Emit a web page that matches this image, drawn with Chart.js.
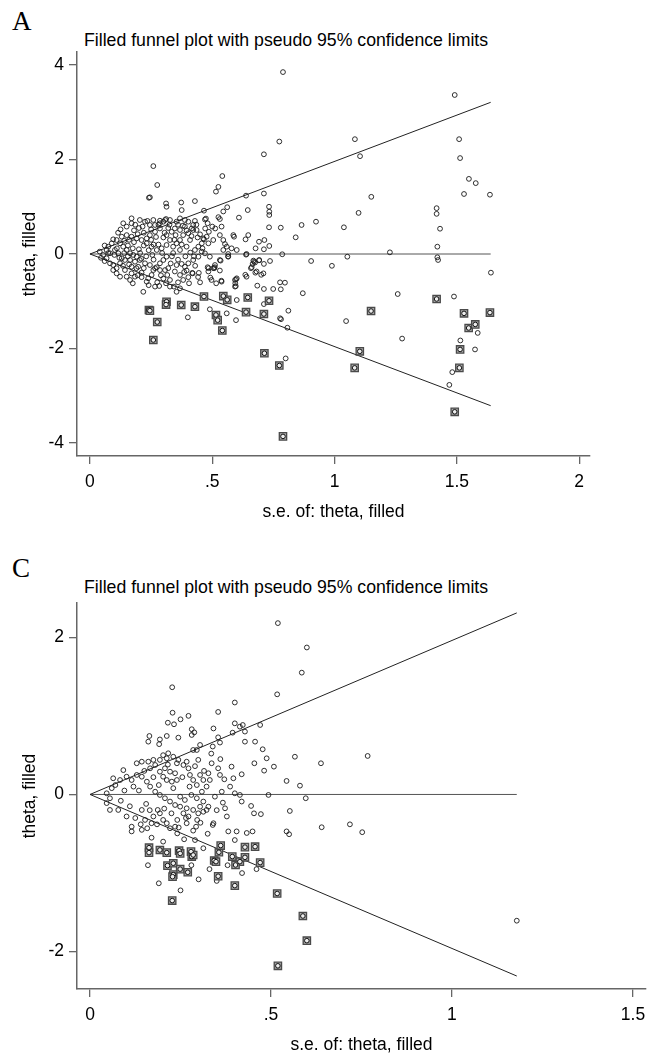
<!DOCTYPE html>
<html>
<head>
<meta charset="utf-8">
<script src="https://cdn.jsdelivr.net/npm/chart.js@4.4.1/dist/chart.umd.min.js"></script>
<style>
  body { margin: 0; background: #fff; }
  #wrap { position: relative; width: 654px; height: 1054px; overflow: hidden; }
  canvas { position: absolute; left: 0; }
  .letter { position: absolute; left: 12px; font: 27px/27px "Liberation Serif", "Times New Roman", serif; color: #000; }
  .title { position: absolute; left: 84px; font: 17.7px/21px "Liberation Sans", Arial, sans-serif; color: #000; white-space: nowrap; }
</style>
</head>
<body>
<div id="wrap">
  <div class="letter" style="top:8px">A</div>
  <div class="title" style="top:30px">Filled funnel plot with pseudo 95% confidence limits</div>
  <canvas id="chartA" width="654" height="530" style="top:0"></canvas>

  <div class="letter" style="top:555px">C</div>
  <div class="title" style="top:577px">Filled funnel plot with pseudo 95% confidence limits</div>
  <canvas id="chartC" width="654" height="514" style="top:540px"></canvas>
</div>
<script>
// Panel A data <---------------------------------------------->
// observed studies [s.e., theta]
const obsA = [
  [1.491,3.365],[1.083,2.43],[1.509,2.43],[1.104,2.07],[1.513,2.03],[1.549,1.59],[1.577,1.50],[1.529,1.27],
  [1.635,1.255],[1.150,1.21],[1.098,0.87],[1.417,0.97],[1.417,0.85],[1.431,0.535],[1.420,0.155],[1.226,0.035],
  [1.42,-0.07],[1.423,-0.127],[1.639,-0.395],[1.258,-0.847],[1.488,-0.90],[1.276,-1.79],[1.585,-1.67],[1.514,-1.83],
  [1.574,-2.02],[1.481,-2.50],[1.469,-2.77],
  [0.789,3.85],[0.774,2.38],[0.711,2.11],[0.259,1.86],[0.275,1.46],[0.241,1.19],[0.245,1.20],[0.311,1.07],
  [0.313,1.0],[0.373,1.09],[0.375,0.93],[0.429,1.12],[0.466,0.917],[0.541,1.65],[0.525,1.42],[0.515,1.32],
  [0.545,0.90],[0.561,0.99],[0.638,1.235],[0.711,1.28],[0.645,0.93],[0.732,1.0],[0.733,0.895],[0.733,0.825],
  [0.609,0.77],[0.732,0.565],[0.78,0.557],[0.865,0.614],[0.924,0.684],[0.841,0.353],[1.038,0.565],
  [0.711,0.10],[0.713,0.296],[0.733,0.17],[0.677,0.12],[0.691,0.26],[0.636,0.31],[0.647,0.40],[0.786,-0.006],
  [0.904,-0.148],[0.989,-0.25],[1.052,-0.057],[1.047,-1.42],[0.87,-0.83],[0.811,-1.20],[0.807,-1.56],[0.777,-1.36],
  [0.781,-1.38],[0.80,-2.21],[0.711,-1.06],[0.777,-0.60],[0.797,-0.607],[0.749,-0.74],[0.711,-0.74],[0.684,-0.67],
  [0.709,-0.41],[0.70,-0.44],[0.668,-0.14],[0.675,-0.18],[0.692,-0.127],[0.661,-0.28],[0.681,-0.37],[0.64,-0.48],
  [0.635,-0.44],[0.60,-0.515],[0.596,-0.68],[0.593,-0.55],[0.60,-0.974],[0.559,-1.256],[0.597,-1.40],[0.49,-1.17],
  [0.40,-1.34],[0.711,-0.21],[0.736,-0.148],[0.671,-0.16],[0.665,-0.21],[0.691,-0.134],[0.676,-0.395],[0.658,-0.30],
  [0.638,-0.014],[0.597,-0.535],[0.594,-0.62],[0.593,-0.69],[0.565,-0.05],[0.537,-0.565],[0.516,-0.62],[0.492,-0.50],
  [0.442,-0.487],[0.42,-0.41],[0.402,-0.49],[0.534,-0.14],[0.51,-0.28],[0.485,-0.30],[0.78,-0.747],
  [0.497,-0.55],[0.538,-0.585],[0.418,-0.40],[0.531,-0.35],[0.508,-0.30],[0.484,-0.37],[0.531,-0.127],[0.565,-0.057],
  [0.545,0.085],[0.559,0.155],[0.579,0.12],[0.60,0.085],[0.552,0.21],[0.545,0.296],[0.531,0.40],[0.512,0.54],
  [0.538,0.58],[0.525,0.78],[0.586,0.40],[0.589,0.366],[0.565,0.0],[0.64,0.0],[0.47,0.73],[0.474,0.75],
  [0.531,0.74],[0.50,0.58],[0.477,0.366],[0.486,0.47],[0.504,0.296],[0.484,0.226],[0.466,0.31],[0.49,-0.057],
  [0.511,-0.233],[0.504,-0.30],[0.481,-0.28],[0.481,0.65],[0.471,0.54],[0.429,0.70],[0.422,0.614],[0.416,0.54],
  [0.436,0.508],[0.45,0.416],[0.463,0.33],[0.457,0.226],[0.443,0.155],[0.429,0.085],[0.457,0.05],[0.47,0.014],
  [0.443,-0.057],[0.422,-0.127],[0.402,-0.197],[0.388,-0.27],[0.395,-0.35],[0.375,-0.21],[0.354,-0.233],[0.347,-0.37],
  [0.368,-0.444],[0.381,-0.55],[0.368,-0.726],[0.354,-0.80],[0.343,-0.69],[0.327,-0.55],[0.316,-0.444],[0.307,-0.34],
  [0.286,-0.34],[0.273,-0.28],[0.259,-0.34],[0.252,-0.444],[0.238,-0.515],[0.232,-0.586],[0.218,-0.80],[0.266,-0.69],
  [0.283,-0.677],[0.184,-0.48],[0.17,-0.41],[0.15,-0.48],[0.143,-0.34],[0.17,-0.27],[0.211,-0.395],[0.197,-0.27],
  [0.184,-0.163],[0.164,-0.127],[0.143,-0.127],[0.123,-0.197],[0.109,-0.30],[0.095,-0.233],[0.082,-0.197],[0.068,-0.09],
  [0.082,0.015],[0.102,0.085],[0.116,0.015],[0.13,-0.09],[0.089,0.226],[0.095,0.31],[0.109,0.296],[0.13,0.366],
  [0.123,0.226],[0.136,0.155],[0.15,0.085],[0.164,0.015],[0.177,-0.02],[0.191,-0.057],[0.204,-0.127],[0.225,-0.197],
  [0.245,-0.233],[0.266,-0.30],[0.286,-0.197],[0.30,-0.127],[0.313,-0.057],[0.136,0.65],[0.17,0.65],[0.17,0.755],
  [0.204,0.72],[0.225,0.684],[0.245,0.614],[0.266,0.614],[0.286,0.65],[0.30,0.684],[0.286,0.54],[0.266,0.47],
  [0.245,0.40],[0.232,0.33],[0.211,0.296],[0.191,0.33],[0.17,0.366],[0.15,0.40],[0.232,0.226],[0.252,0.155],
  [0.273,0.085],[0.293,0.12],[0.313,0.19],[0.327,0.296],[0.313,0.40],[0.334,0.47],[0.347,0.54],[0.354,0.684],
  [0.327,0.72],[0.307,0.72],[0.368,0.755],[0.388,0.72],[0.402,0.684],[0.388,0.58],[0.368,0.508],[0.381,0.40],
  [0.368,0.296],[0.354,0.226],[0.34,0.155],[0.368,0.085],[0.395,0.155],[0.409,0.296],[0.402,0.44],[0.422,0.508],
  [0.311,0.74],[0.286,0.705],[0.259,0.72],[0.054,-0.02],[0.068,0.085],[0.075,0.155],[0.095,-0.34],[0.109,-0.41],
  [0.123,-0.48],[0.164,-0.55],[0.211,-0.49],[0.311,-0.62],[0.327,-0.69],
  [0.04,0.05],[0.045,-0.08],[0.06,0.18],[0.06,-0.15],[0.075,0.02],[0.10,-0.02],[0.11,0.12],[0.12,-0.08],
  [0.14,0.02],[0.155,0.18],[0.16,-0.22],[0.18,0.25],[0.19,-0.30],[0.20,0.10],[0.21,-0.10],[0.22,0.45],
  [0.23,-0.05],[0.24,0.08],[0.25,0.30],[0.26,-0.12],[0.28,0.20],[0.29,-0.45],[0.30,0.35],[0.32,0.55],
  [0.33,-0.20],[0.34,0.02],[0.35,0.40],[0.36,-0.60],[0.38,0.60],[0.39,-0.05],[0.41,0.03],[0.43,-0.25],
  [0.44,0.35],[0.45,-0.60],[0.46,0.12],[0.20,0.55],[0.18,0.50],[0.15,0.58],
  [0.115,0.45],[0.125,0.52],[0.14,0.28],[0.16,0.30],[0.175,0.12],[0.185,0.62],[0.195,0.42],[0.215,0.58],
  [0.22,0.18],[0.235,0.70],[0.25,0.52],[0.255,-0.02],[0.27,0.36],[0.275,-0.60],[0.28,0.62],[0.295,0.02],
  [0.30,-0.52],[0.305,0.45],[0.32,-0.30],[0.325,0.62],[0.335,-0.05],[0.345,0.30],[0.36,0.62],[0.36,-0.12],
  [0.375,0.20],[0.385,-0.38],[0.395,0.50],[0.405,-0.62],[0.415,0.38],[0.425,-0.05],[0.435,0.62],[0.445,-0.40],
  [0.135,-0.25],[0.155,-0.05],[0.175,-0.62],[0.195,-0.45],[0.205,0.02],[0.22,-0.30],[0.24,-0.66],[0.26,0.20]
];
// filled (imputed) studies
const filledA = [
  [0.241,-1.185],[0.245,-1.20],[0.275,-1.44],[0.313,-1.01],[0.311,-1.07],[0.373,-1.08],[0.429,-1.115],[0.466,-0.90],
  [0.545,-0.89],[0.561,-0.97],[0.645,-0.92],[0.732,-0.99],[0.515,-1.29],[0.522,-1.40],[0.541,-1.62],[0.638,-1.23],
  [0.711,-1.27],[0.259,-1.82],[1.149,-1.207],[0.713,-2.10],[0.774,-2.36],[1.103,-2.06],[1.082,-2.41],[0.789,-3.86],
  [1.417,-0.952],[1.529,-1.256],[1.635,-1.24],[1.548,-1.566],[1.575,-1.49],[1.513,-2.02],[1.510,-2.41],[1.491,-3.34]
];
// pseudo 95% limits
const limitSeA = [0, 1.638];
const upperA = [0, 3.21];
const lowerA = [0, -3.21];
const centerA = [0, 0];
const yTicksA = [-4, -2, 0, 2, 4];

// Panel C data <---------------------------------------------->
const obsC = [
  [0.519,2.18],[0.599,1.87],[0.585,1.55],[0.638,0.397],[0.767,0.49],[0.58,0.112],[0.596,-0.048],[0.64,-0.417],
  [0.718,-0.38],[0.752,-0.48],[1.179,-1.606],
  [0.227,1.364],[0.517,1.274],[0.40,1.17],[0.354,1.05],[0.228,1.04],[0.25,0.956],[0.272,1.0],[0.215,0.913],
  [0.232,0.893],[0.281,0.83],[0.288,0.79],[0.281,0.757],[0.341,0.84],[0.40,0.905],[0.414,0.863],[0.422,0.884],
  [0.428,0.80],[0.394,0.786],[0.47,0.884],[0.164,0.744],[0.161,0.672],[0.193,0.70],[0.191,0.64],[0.212,0.744],
  [0.244,0.723],[0.354,0.727],[0.359,0.66],[0.339,0.61],[0.304,0.63],[0.295,0.566],[0.285,0.566],[0.428,0.672],
  [0.456,0.672],[0.477,0.575],[0.488,0.46],[0.508,0.354],[0.566,0.48],[0.454,0.397],[0.481,0.303],[0.391,0.354],
  [0.419,0.257],[0.543,0.172],[0.493,-0.006],[0.552,-0.21],[0.543,-0.47],[0.55,-0.506],
  [0.396,0.206],[0.371,0.193],[0.359,0.248],[0.354,0.333],[0.336,0.397],[0.327,0.27],[0.331,0.184],[0.414,-0.006],
  [0.419,-0.09],[0.40,0.015],[0.387,0.1],[0.364,0.035],[0.345,-0.028],[0.367,-0.104],[0.373,-0.176],[0.378,-0.28],
  [0.382,-0.47],[0.40,-0.58],[0.405,-0.47],[0.433,-0.49],[0.449,-0.47],[0.445,-0.146],[0.453,-0.24],[0.472,-0.25],
  [0.341,-0.366],[0.322,-0.197],[0.304,-0.155],[0.296,-0.324],[0.293,-0.41],[0.267,-0.366],[0.272,-0.28],[0.258,-0.24],
  [0.241,-0.324],[0.235,-0.41],[0.241,-0.495],[0.221,-0.43],[0.212,-0.366],[0.202,-0.324],[0.193,-0.24],[0.187,-0.197],
  [0.175,-0.28],[0.17,-0.366],[0.158,-0.43],[0.152,-0.324],[0.143,-0.197],[0.115,-0.41],[0.115,-0.47],[0.143,-0.45],
  [0.17,-0.55],[0.202,-0.60],[0.26,-0.57],[0.29,-0.58],[0.313,-0.684],[0.339,-0.388],[0.101,-0.28],[0.078,-0.197],
  [0.055,-0.197],[0.046,-0.11],[0.055,-0.048],[0.046,0.015],[0.06,0.08],[0.064,0.206],[0.083,0.184],[0.092,0.31],
  [0.101,0.226],[0.115,0.184],[0.129,0.248],[0.143,0.226],[0.157,0.163],[0.166,0.1],[0.18,0.035],[0.193,-0.006],
  [0.207,-0.048],[0.221,-0.09],[0.235,-0.134],[0.129,0.397],[0.143,0.417],[0.161,0.417],[0.166,0.333],[0.18,0.375],
  [0.193,0.29],[0.202,0.226],[0.212,0.184],[0.226,0.163],[0.24,0.184],[0.235,0.27],[0.221,0.29],[0.207,0.333],
  [0.193,0.44],[0.202,0.50],[0.216,0.524],[0.23,0.48],[0.244,0.44],[0.258,0.375],[0.272,0.333],[0.276,0.248],
  [0.285,0.184],[0.295,0.12],[0.309,0.035],[0.322,0.1],[0.313,0.184],[0.304,0.248],[0.249,-0.028],[0.262,-0.07],
  [0.28,-0.006],[0.295,-0.048],[0.313,-0.09],[0.327,-0.155],[0.313,-0.22],[0.299,-0.24],[0.285,-0.197],[0.267,-0.176],
  [0.249,-0.155],[0.175,0.44],[0.212,0.46],[0.24,0.397],[0.267,0.417],[0.299,0.44],
  [0.19,-1.13],[0.25,-1.22],[0.30,-1.08],[0.35,-1.10],[0.42,-1.00],[0.16,-0.90],[0.33,-0.95],[0.46,-0.95],
  [0.28,-0.90],[0.38,-0.90],
  [0.07,0.12],[0.085,-0.08],[0.095,0.05],[0.11,-0.15],[0.12,0.10],[0.125,-0.30],[0.135,0.05],[0.14,-0.38],
  [0.15,0.30],[0.155,-0.12],[0.165,-0.20],[0.175,0.22],[0.185,-0.38],[0.19,0.12],[0.205,-0.18],[0.215,0.38],
  [0.225,-0.24],[0.23,0.08],[0.245,-0.42],[0.255,0.22],[0.265,-0.30],[0.275,0.10],[0.285,-0.46],[0.29,0.36],
  [0.305,-0.36],[0.315,0.30],[0.325,-0.50],[0.335,0.52],[0.35,-0.20],[0.36,0.45]
];
const filledC = [
  [0.163,-0.677],[0.163,-0.74],[0.193,-0.706],[0.212,-0.74],[0.246,-0.715],[0.249,-0.75],[0.279,-0.727],[0.281,-0.79],
  [0.285,-0.77],[0.214,-0.905],[0.23,-0.875],[0.249,-0.95],[0.27,-0.99],[0.23,-1.02],[0.356,-0.735],[0.361,-0.65],
  [0.343,-0.84],[0.348,-0.855],[0.393,-0.79],[0.414,-0.855],[0.402,-0.897],[0.428,-0.80],[0.428,-0.67],[0.456,-0.664],
  [0.47,-0.867],[0.354,-1.04],[0.228,-1.046],[0.227,-1.35],[0.40,-1.16],[0.517,-1.26],[0.588,-1.546],[0.599,-1.86],
  [0.519,-2.18]
];
const limitSeC = [0, 1.179];
const upperC = [0, 2.31];
const lowerC = [0, -2.31];
const centerC = [0, 0];
const yTicksC = [-2, 0, 2];

const FONT = { family: '"Liberation Sans", Arial, sans-serif', size: 17.5 };

function pts(list) { return list.map(p => ({ x: p[0], y: p[1] })); }
function line(xs, ys) { return xs.map((x, i) => ({ x: x, y: ys[i] })); }
function fmt(v) {
    if (v === 0) return '0';
    return String(v).replace(/^0\./, '.').replace(/^-0\./, '-.');
}

function makeFunnel(id, o) {
    const lineStyle = (data, color) => ({
        data: data, showLine: true, pointRadius: 0, borderColor: color, borderWidth: 1, fill: false
    });
    new Chart(document.getElementById(id), {
        type: 'scatter',
        data: {
            datasets: [
                // circle drawn on top of the filled squares
                { data: pts(o.filled), pointStyle: 'circle', pointRadius: 2.3, borderWidth: 1,
                  borderColor: '#111', backgroundColor: '#eeeeee', order: 0 },
                { data: pts(o.filled), pointStyle: 'rect', pointRadius: 5.2, borderWidth: 1.3,
                  borderColor: '#4a4a4a', backgroundColor: '#a8a8a8', order: 1 },
                { data: pts(o.obs), pointStyle: 'circle', pointRadius: 2.4, borderWidth: 0.9,
                  borderColor: '#1a1a1a', backgroundColor: 'rgba(0,0,0,0)', order: 2 },
                Object.assign(lineStyle(line(o.se, o.upper), '#222'), { order: 3 }),
                Object.assign(lineStyle(line(o.se, o.lower), '#222'), { order: 3 }),
                Object.assign(lineStyle(line(o.se, o.center), '#555'), { order: 3 })
            ]
        },
        options: {
            responsive: false,
            animation: false,
            layout: { padding: { top: o.padTop, right: o.padRight, left: 0, bottom: 0 } },
            plugins: { legend: { display: false }, tooltip: { enabled: false } },
            scales: {
                x: {
                    type: 'linear', min: o.xMin, max: o.xMax,
                    afterFit: s => { s.height = o.xH; },
                    ticks: { stepSize: 0.5, includeBounds: false, color: '#000', font: FONT, padding: 8,
                             maxRotation: 0, callback: fmt },
                    grid: { display: true, drawOnChartArea: false, drawTicks: true, tickLength: 8,
                            color: '#666', lineWidth: 1.3 },
                    border: { display: true, color: '#666', width: 1.5 },
                    title: { display: true, text: 's.e. of: theta, filled', color: '#000',
                             font: Object.assign({ lineHeight: 1 }, FONT), padding: { top: 0, bottom: o.xTitlePad } }
                },
                y: {
                    type: 'linear', min: o.yMin, max: o.yMax,
                    afterFit: s => { s.width = 77; },
                    afterBuildTicks: s => { s.ticks = o.yTicks.map(v => ({ value: v })); },
                    ticks: { color: '#000', font: FONT, padding: 5, callback: fmt },
                    grid: { display: true, drawOnChartArea: false, drawTicks: true, tickLength: 8,
                            color: '#666', lineWidth: 1.3 },
                    border: { display: true, color: '#666', width: 1.5 },
                    title: { display: true, text: 'theta, filled', color: '#000',
                             font: Object.assign({ lineHeight: 1 }, FONT), padding: { top: 21, bottom: 0 } }
                }
            }
        }
    });
}

makeFunnel('chartA', {
    obs: obsA, filled: filledA, se: limitSeA, upper: upperA, lower: lowerA, center: centerA,
    yTicks: yTicksA, xMin: -0.053, xMax: 2.044, yMin: -4.275, yMax: 4.275,
    padTop: 52, padRight: 64, xH: 74, xTitlePad: 9
});

makeFunnel('chartC', {
    obs: obsC, filled: filledC, se: limitSeC, upper: upperC, lower: lowerC, center: centerC,
    yTicks: yTicksC, xMin: -0.036, xMax: 1.536, yMin: -2.475, yMax: 2.436,
    padTop: 63, padRight: 8, xH: 65, xTitlePad: 0
});
</script>
</body>
</html>
